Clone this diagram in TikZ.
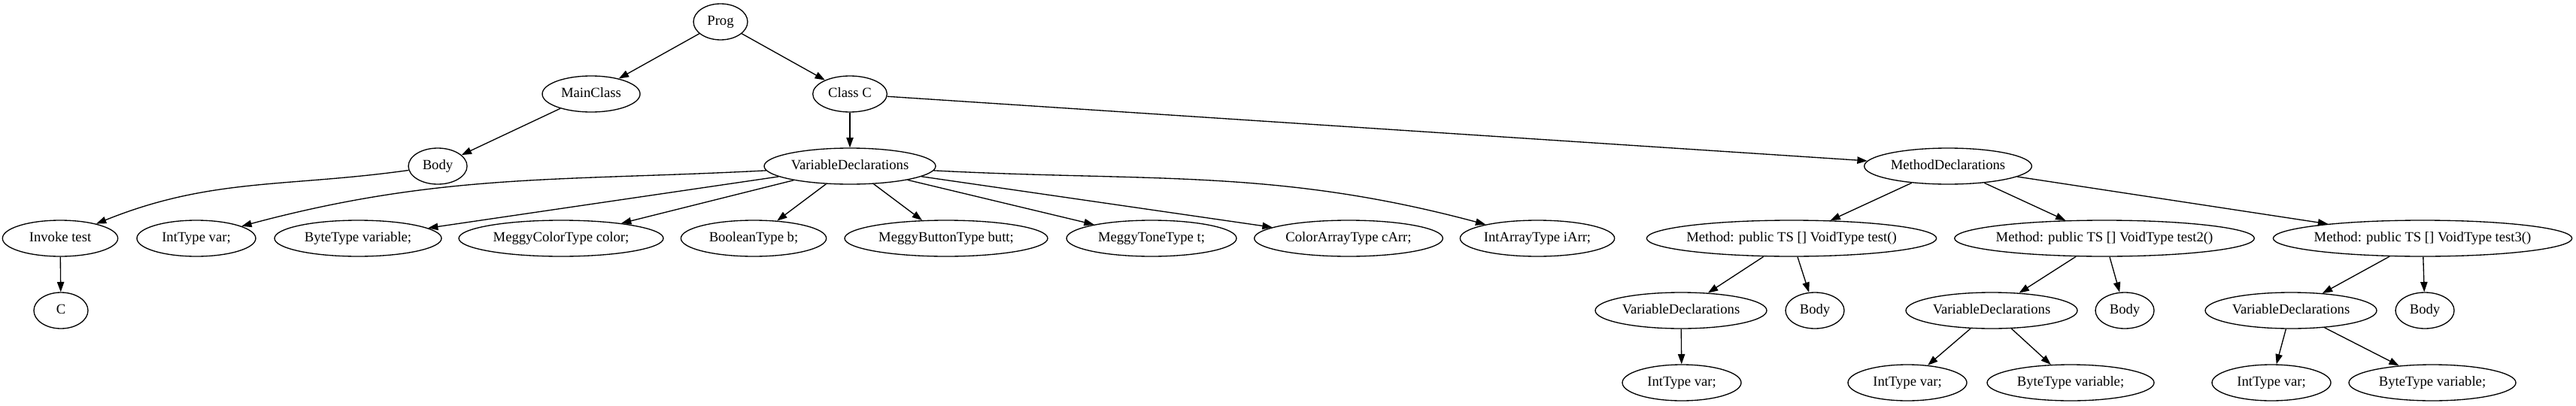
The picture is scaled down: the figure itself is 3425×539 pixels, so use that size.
\documentclass[tikz,border=0pt]{standalone}
\usepackage{fontspec}
\setmainfont{Liberation Serif}
\usetikzlibrary{shapes.geometric,arrows.meta}
\newcommand\gvt[1]{\makebox[0pt]{#1}}
\begin{document}
\begin{tikzpicture}[x=0.75pt,y=0.75pt,
  gv/.style={ellipse, draw, line width=1pt, inner sep=0pt, minimum height=36pt,
    text height=10pt, text depth=3pt, font=\fontsize{14}{16}\selectfont},
  edge/.style={line width=1pt, -{Triangle[length=10pt,width=7pt]}}]
\useasboundingbox (0,0) rectangle (3425,-539);
% row 0
\node[gv, minimum width=54pt] (prog) at (958,-29) {\gvt{Prog}};
% row 1
\node[gv, minimum width=97.5pt] (mainc) at (786,-125) {\gvt{MainClass}};
\node[gv, minimum width=74pt] (classc) at (1130,-125) {\gvt{Class C}};
% row 2
\node[gv, minimum width=58.5pt] (body0) at (582,-221) {\gvt{Body}};
\node[gv, minimum width=171pt] (vd0) at (1130,-221) {\gvt{VariableDeclarations}};
\node[gv, minimum width=167pt] (md) at (2590,-221) {\gvt{MethodDeclarations}};
% row 3
\node[gv, minimum width=115pt] (inv) at (80,-317) {\gvt{Invoke test}};
\node[gv, minimum width=118.5pt] (iv0) at (261,-317) {\gvt{IntType var;}};
\node[gv, minimum width=166.5pt] (bv0) at (476,-317) {\gvt{ByteType variable;}};
\node[gv, minimum width=204pt] (mcc) at (746,-317) {\gvt{MeggyColorType color;}};
\node[gv, minimum width=145pt] (bool) at (1002,-317) {\gvt{BooleanType b;}};
\node[gv, minimum width=202.5pt] (mbb) at (1258,-317) {\gvt{MeggyButtonType butt;}};
\node[gv, minimum width=169.5pt] (mtt) at (1531,-317) {\gvt{MeggyToneType t;}};
\node[gv, minimum width=188pt] (cac) at (1793,-317) {\gvt{ColorArrayType cArr;}};
\node[gv, minimum width=154pt] (iai) at (2044,-317) {\gvt{IntArrayType iArr;}};
\node[gv, minimum width=289pt] (m1) at (2382,-317) {\gvt{Method: public TS [] VoidType test()}};
\node[gv, minimum width=299pt] (m2) at (2798,-317) {\gvt{Method: public TS [] VoidType test2()}};
\node[gv, minimum width=298pt] (m3) at (3221,-317) {\gvt{Method: public TS [] VoidType test3()}};
% row 4
\node[gv, minimum width=54pt] (c) at (81,-413) {\gvt{C}};
\node[gv, minimum width=171pt] (vd1) at (2235,-413) {\gvt{VariableDeclarations}};
\node[gv, minimum width=58.5pt] (b1) at (2413,-413) {\gvt{Body}};
\node[gv, minimum width=171pt] (vd2) at (2648,-413) {\gvt{VariableDeclarations}};
\node[gv, minimum width=58.5pt] (b2) at (2825,-413) {\gvt{Body}};
\node[gv, minimum width=171pt] (vd3) at (3046,-413) {\gvt{VariableDeclarations}};
\node[gv, minimum width=58.5pt] (b3) at (3224,-413) {\gvt{Body}};
% row 5
\node[gv, minimum width=118.5pt] (iv1) at (2236,-509) {\gvt{IntType var;}};
\node[gv, minimum width=118.5pt] (iv2) at (2536,-509) {\gvt{IntType var;}};
\node[gv, minimum width=166.5pt] (bv2) at (2753,-509) {\gvt{ByteType variable;}};
\node[gv, minimum width=118.5pt] (iv3) at (3020,-509) {\gvt{IntType var;}};
\node[gv, minimum width=166.5pt] (bv3) at (3234,-509) {\gvt{ByteType variable;}};
% edges
\draw[edge] (prog) -- (mainc);
\draw[edge] (prog) -- (classc);
\draw[edge] (mainc) -- (body0);
\draw[edge] (classc) -- (vd0);
\draw[edge] (classc) -- (md);
\draw[edge] (body0) to[out=188,in=22] (inv);
\draw[edge] (inv) -- (c);
\draw[edge] (vd0) to[out=183,in=15] (iv0);
\draw[edge] (vd0) -- (bv0);
\draw[edge] (vd0) -- (mcc);
\draw[edge] (vd0) -- (bool);
\draw[edge] (vd0) -- (mbb);
\draw[edge] (vd0) -- (mtt);
\draw[edge] (vd0) -- (cac);
\draw[edge] (vd0) to[out=-3,in=165] (iai);
\draw[edge] (md) -- (m1);
\draw[edge] (md) -- (m2);
\draw[edge] (md) -- (m3);
\draw[edge] (m1) -- (vd1);
\draw[edge] (m1) -- (b1);
\draw[edge] (vd1) -- (iv1);
\draw[edge] (m2) -- (vd2);
\draw[edge] (m2) -- (b2);
\draw[edge] (vd2) -- (iv2);
\draw[edge] (vd2) -- (bv2);
\draw[edge] (m3) -- (vd3);
\draw[edge] (m3) -- (b3);
\draw[edge] (vd3) -- (iv3);
\draw[edge] (vd3) -- (bv3);
\end{tikzpicture}
\end{document}
